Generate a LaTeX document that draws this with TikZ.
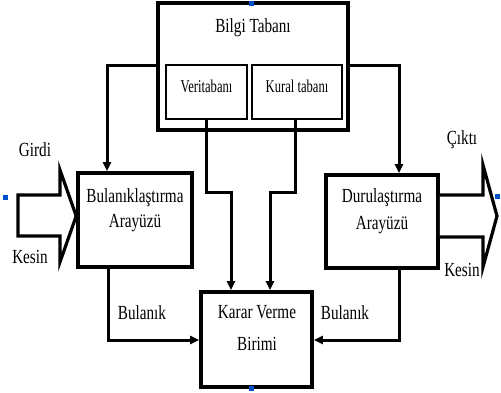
\documentclass[tikz,border=0pt]{standalone}
\usepackage{fontspec}
\setmainfont[FakeStretch=0.76]{Liberation Serif}
\newfontfamily\narrowserif[FakeStretch=0.7]{Liberation Serif}
\usetikzlibrary{arrows.meta}
\begin{document}
\begin{tikzpicture}[x=1pt,y=-1pt,
  box/.style={draw,line width=3.6pt,rectangle,inner sep=0pt},
  inbox/.style={draw,line width=2.8pt,rectangle,inner sep=0pt},
  txt/.style={font=\fontsize{20}{25}\selectfont,align=center,inner sep=0pt},
  smalltxt/.style={font=\narrowserif\fontsize{18}{20}\selectfont,inner sep=0pt},
  conn/.style={line width=3pt},
  arr/.style={conn,-{Triangle[length=9pt,width=8pt]}},
  blockarrow/.style={draw,line width=3.2pt,line join=miter,fill=white},
  handle/.style={fill=blue!60!cyan!80!black,draw=none,inner sep=0pt,minimum size=5pt}]
\useasboundingbox (0,0) rectangle (501,392);
% boxes
\node[box,minimum width=190pt,minimum height=127pt] (bilgi) at (253,66.5) {};
\node[inbox,minimum width=81pt,minimum height=54pt] (veri) at (206.5,92) {};
\node[inbox,minimum width=90pt,minimum height=54pt] (kural) at (297,92) {};
\node[box,minimum width=114pt,minimum height=94pt] (bul) at (135,220) {};
\node[box,minimum width=112pt,minimum height=93pt] (dur) at (382,221.5) {};
\node[box,minimum width=111pt,minimum height=95pt] (karar) at (256.5,339.5) {};
% texts
\node[txt] (tbilgi) at (253,28) {Bilgi Tabanı};
\node[smalltxt] (tveri) at (206.5,86) {Veritabanı};
\node[smalltxt] (tkural) at (297,86) {Kural tabanı};
\node[txt] (tbul) at (135,210) {Bulanıklaştırma\\Arayüzü};
\node[txt,font=\fontsize{20}{27}\selectfont] (tdur) at (382,211) {Durulaştırma\\Arayüzü};
\node[txt,font=\fontsize{20}{32}\selectfont] (tkarar) at (257,328) {Karar Verme\\Birimi};
\node[txt] (tgirdi) at (35,150) {Girdi};
\node[txt] (tkesin1) at (30,257) {Kesin};
\node[txt] (tcikti) at (462,140) {Çıktı};
\node[txt] (tkesin2) at (462,270) {Kesin};
\node[txt] (tbulanik1) at (142,313) {Bulanık};
\node[txt] (tbulanik2) at (345,313) {Bulanık};
% coordinates for bends
\coordinate (l1) at (107,65);
\coordinate (r1) at (399,65);
\coordinate (v1) at (206,192);
\coordinate (v2) at (231,192);
\coordinate (k1) at (295,192);
\coordinate (k2) at (270,192);
\coordinate (b1) at (108,340);
\coordinate (d1) at (399,340);
% connectors
\draw[arr] (bilgi.west |- l1) -- (l1) -- (l1 |- bul.north);
\draw[arr] (bilgi.east |- r1) -- (r1) -- (r1 |- dur.north);
\draw[arr] (veri.south -| v1) -- (v1) -- (v2) -- (v2 |- karar.north);
\draw[arr] (kural.south -| k1) -- (k1) -- (k2) -- (k2 |- karar.north);
\draw[arr] (bul.south -| b1) -- (b1) -- (b1 -| karar.west);
\draw[arr] (dur.south -| d1) -- (d1) -- (d1 -| karar.east);
% block arrows
\draw[blockarrow] (18,195) -- (60,195) -- (60,170) -- (bul.west |- 0,216) -- (60,262) -- (60,236) -- (18,236) -- cycle;
\draw[blockarrow] (dur.east |- 0,195) -- (483,195) -- (483,165) -- (497,216) -- (483,267) -- (483,237) -- (dur.east |- 0,237);
% selection handles
\node[handle] (h1) at (5,197) {};
\node[handle] (h2) at (251,3.5) {};
\node[handle] (h3) at (497,196.5) {};
\node[handle] (h4) at (251,388) {};
\end{tikzpicture}
\end{document}
